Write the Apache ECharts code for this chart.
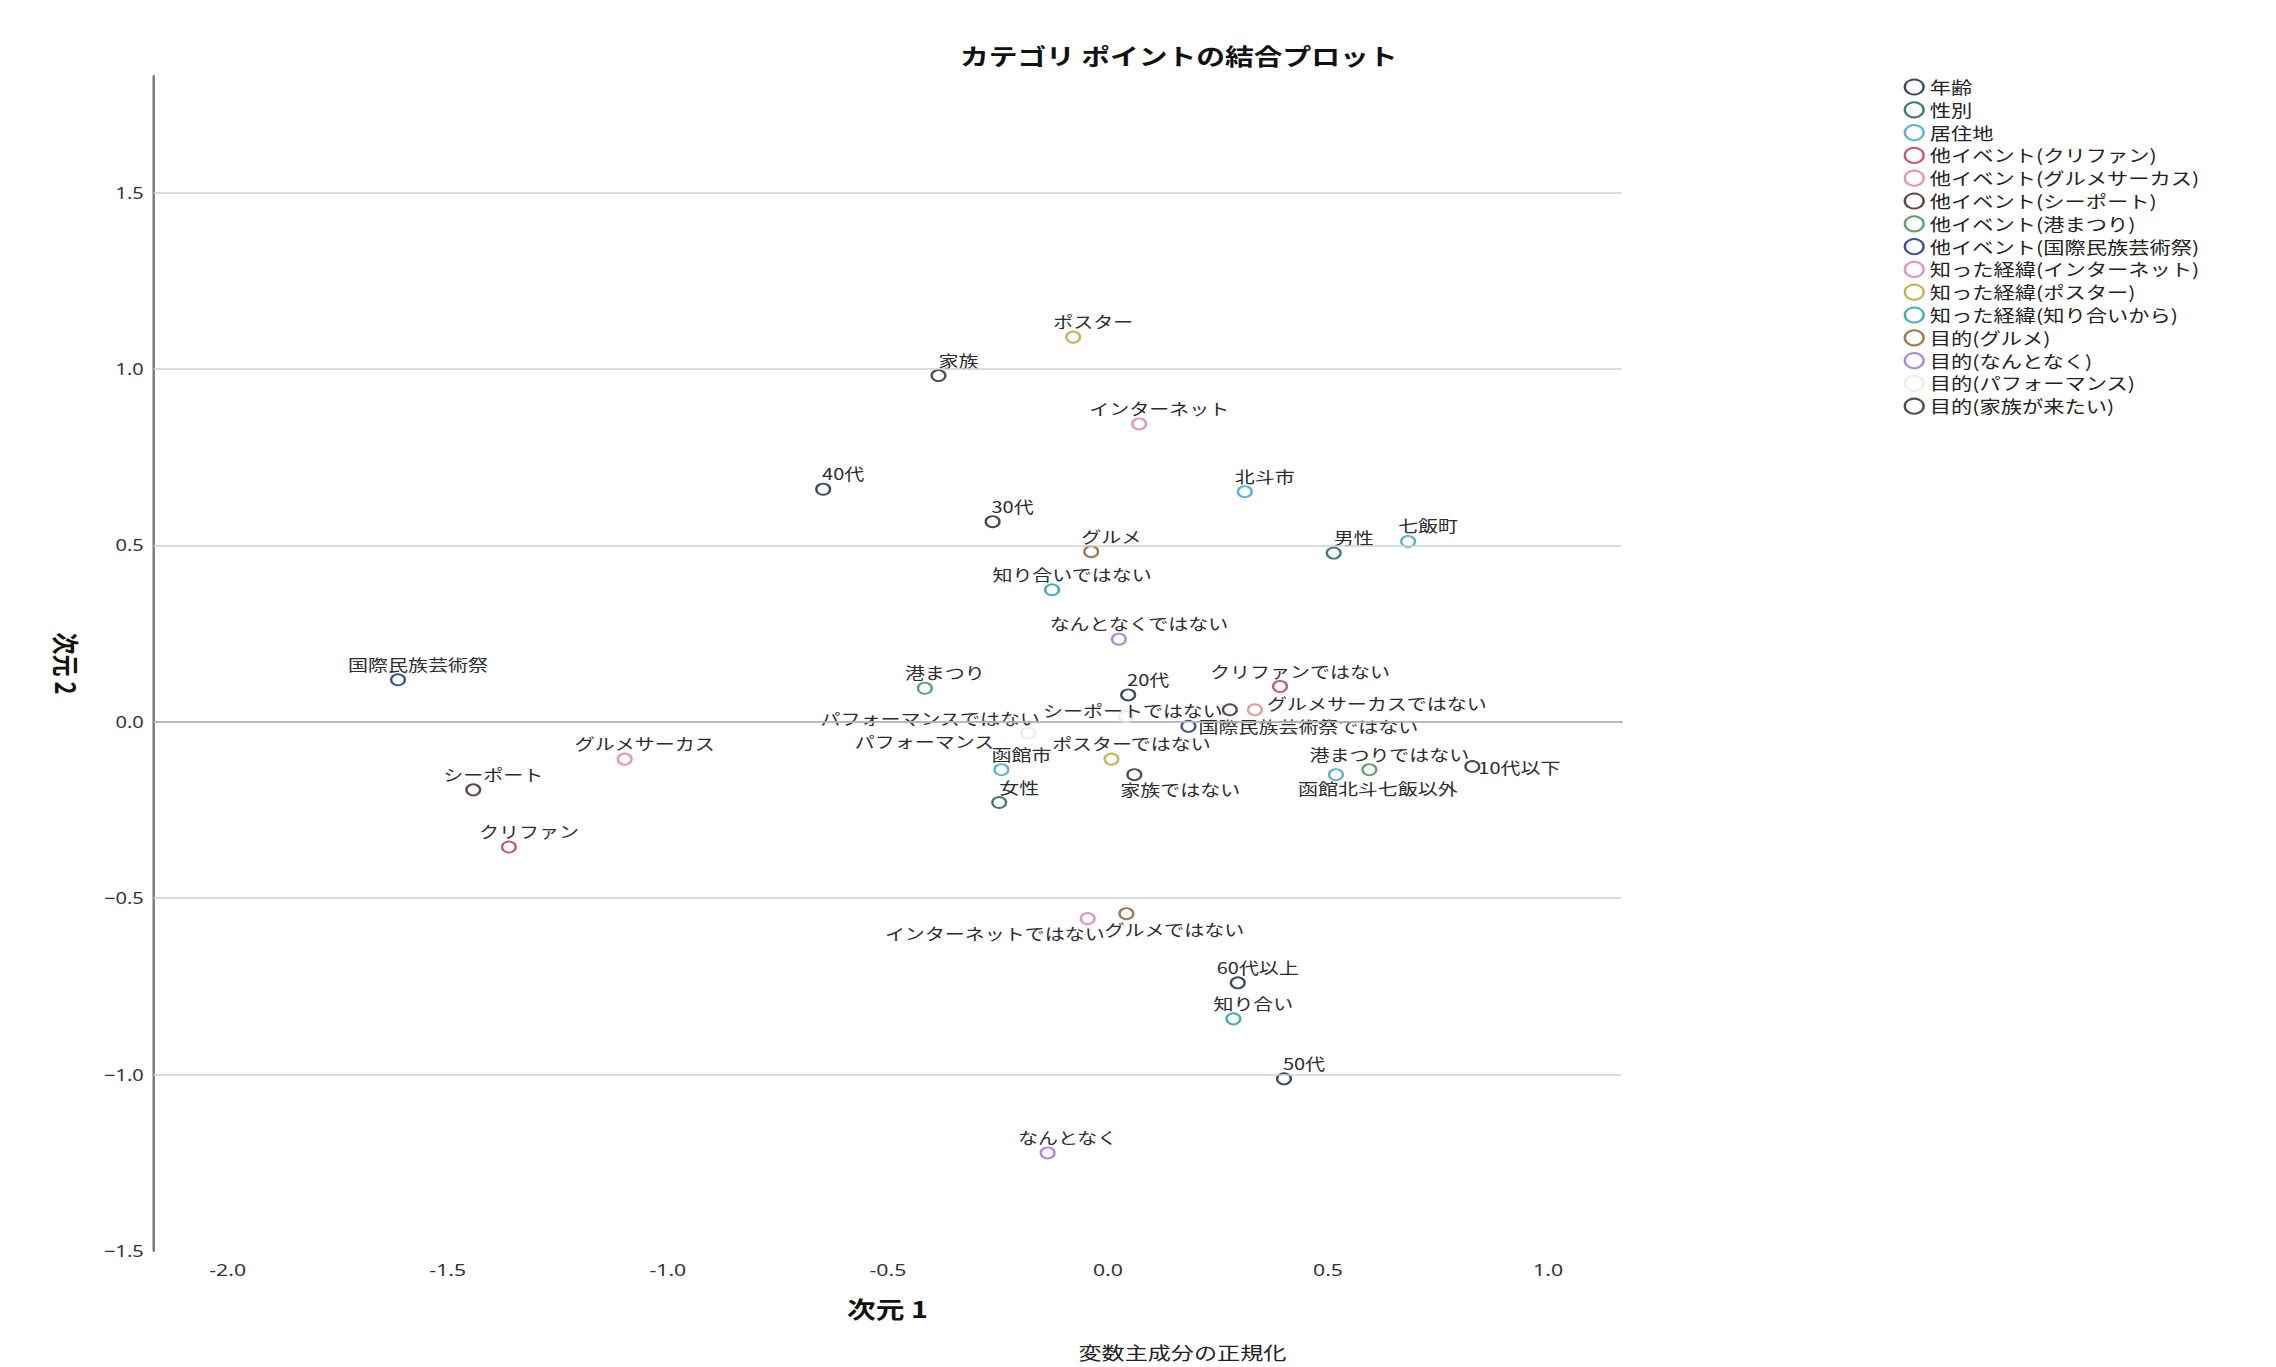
<!DOCTYPE html>
<html lang="ja">
<head>
<meta charset="utf-8">
<title>カテゴリ ポイントの結合プロット</title>
<script src="https://cdn.jsdelivr.net/npm/echarts@6/dist/echarts.min.js"></script>
<style>
  html, body { margin: 0; padding: 0; background: #ffffff; overflow: hidden; }
  /* the plot is laid out on a narrower canvas and widened to the page width */
  #chart { width: 1821px; height: 1367px; transform: scaleX(1.2499); transform-origin: 0 0; }
</style>
</head>
<body>
<div id="chart"></div>
<script>
// ---- variables (one legend entry each) ----
const variables = [
  '年齢', '性別', '居住地',
  '他イベント(クリファン)', '他イベント(グルメサーカス)', '他イベント(シーポート)',
  '他イベント(港まつり)', '他イベント(国際民族芸術祭)',
  '知った経緯(インターネット)', '知った経緯(ポスター)', '知った経緯(知り合いから)',
  '目的(グルメ)', '目的(なんとなく)', '目的(パフォーマンス)', '目的(家族が来たい)'
];

// ---- category points: label, owning variable, dimension 1, dimension 2 ----
const categoryLabels = [
  '10代以下', '20代', '30代', '40代', '50代', '60代以上',
  '男性', '女性',
  '函館市', '北斗市', '七飯町', '函館北斗七飯以外',
  'クリファン', 'クリファンではない',
  'グルメサーカス', 'グルメサーカスではない',
  'シーポート', 'シーポートではない',
  '港まつり', '港まつりではない',
  '国際民族芸術祭', '国際民族芸術祭ではない',
  'インターネット', 'インターネットではない',
  'ポスター', 'ポスターではない',
  '知り合い', '知り合いではない',
  'グルメ', 'グルメではない',
  'なんとなく', 'なんとなくではない',
  'パフォーマンス', 'パフォーマンスではない',
  '家族', '家族ではない'
];
const categoryVariable = [
  0, 0, 0, 0, 0, 0,
  1, 1,
  2, 2, 2, 2,
  3, 3,
  4, 4,
  5, 5,
  6, 6,
  7, 7,
  8, 8,
  9, 9,
  10, 10,
  11, 11,
  12, 12,
  13, 13,
  14, 14
];
const dim1 = [
  0.828, 0.046, -0.262, -0.647, 0.400, 0.295,
  0.513, -0.247,
  -0.242, 0.311, 0.682, 0.518,
  -1.361, 0.391,
  -1.098, 0.334,
  -1.442, 0.277,
  -0.416, 0.594,
  -1.613, 0.183,
  0.071, -0.046,
  -0.079, 0.008,
  0.285, -0.127,
  -0.038, 0.042,
  -0.137, 0.025,
  -0.181, 0.041,
  -0.385, 0.060
];
const dim2 = [
  -0.127, 0.076, 0.567, 0.659, -1.012, -0.740,
  0.478, -0.229,
  -0.136, 0.652, 0.511, -0.150,
  -0.355, 0.100,
  -0.106, 0.034,
  -0.193, 0.034,
  0.095, -0.136,
  0.119, -0.013,
  0.844, -0.558,
  1.090, -0.106,
  -0.842, 0.374,
  0.482, -0.544,
  -1.222, 0.234,
  -0.032, 0.014,
  0.981, -0.150
];

// ---- axis ticks ----
const xTickValues = [-2.0, -1.5, -1.0, -0.5, 0.0, 0.5, 1.0];
const yTickValues = [-1.5, -1.0, -0.5, 0.0, 0.5, 1.0, 1.5];

// ---- styling ----
const variableColors = [
  '#3f4b5b', '#3f7a73', '#5fb2d6',
  '#c05b7d', '#e6979f', '#5f4646',
  '#60a06f', '#3d5392',
  '#e593bc', '#c9b35a', '#3fb0b3',
  '#a27749', '#ad8ad8', '#eeeee4', '#505050'
];
const SX = 1.2499;            // horizontal widening applied to the whole chart
const defaultLabel = { align: 'center', dx: 20, dy: -16 };   // page pixels
const labelPlacement = {
  'シーポートではない':     { align: 'right', dx: -7,  dy: 0 },
  'グルメサーカスではない': { align: 'left',  dx: 12,  dy: -7 },
  '国際民族芸術祭ではない': { align: 'left',  dx: 10,  dy: 0 },
  '10代以下':               { align: 'left',  dx: 6,   dy: 0 },
  '家族ではない':           { align: 'left',  dx: -14, dy: 14 },
  'インターネットではない': { align: 'right', dx: 17,  dy: 14 },
  'グルメではない':         { align: 'left',  dx: -22, dy: 15 },
  '函館北斗七飯以外':       { align: 'left',  dx: -38, dy: 13 },
  'パフォーマンス':         { align: 'right', dx: -34, dy: 8 },
  'パフォーマンスではない': { align: 'right', dx: -86, dy: 1 }
};

const JP = '"Noto Sans CJK JP", "Noto Sans", sans-serif';

function pointsOf(v) {
  const out = [];
  categoryLabels.forEach((name, i) => {
    if (categoryVariable[i] !== v) return;
    const p = labelPlacement[name] || defaultLabel;
    out.push({
      name: name,
      value: [dim1[i], dim2[i]],
      label: {
        show: true,
        formatter: name,
        position: 'inside',
        align: p.align,
        verticalAlign: 'middle',
        offset: [p.dx / SX, p.dy]
      }
    });
  });
  return out;
}

const series = variables.map((v, k) => ({
  name: v,
  type: 'scatter',
  symbol: 'circle',
  symbolSize: 11,
  z: 3,
  itemStyle: { color: '#ffffff', borderColor: variableColors[k], borderWidth: 1.9, opacity: 1 },
  label: { fontFamily: JP, fontSize: 16, color: '#2c2c2c' },
  emphasis: { disabled: true },
  data: pointsOf(k)
}));

// horizontal reference lines at the dimension 2 ticks
series.unshift({
  name: 'gridlines',
  type: 'scatter',
  data: [],
  silent: true,
  z: 1,
  markLine: {
    silent: true,
    symbol: ['none', 'none'],
    label: { show: false },
    lineStyle: { color: '#cfcfcf', width: 1.5, type: 'solid' },
    emphasis: { disabled: true },
    data: yTickValues.filter(v => v > yTickValues[0]).map(v => ({ yAxis: v }))
  }
});

const chart = echarts.init(document.getElementById('chart'), null, { renderer: 'svg' });
chart.setOption({
  animation: false,
  backgroundColor: '#ffffff',
  title: [
    {
      text: 'カテゴリ ポイントの結合プロット',
      left: 938, top: 38, textAlign: 'center',
      textStyle: { fontFamily: JP, fontSize: 23, fontWeight: 'bold', color: '#111111' }
    },
    {
      text: '変数主成分の正規化',
      left: 941, top: 1338, textAlign: 'center',
      textStyle: { fontFamily: JP, fontSize: 18.5, fontWeight: 'normal', color: '#222222' }
    }
  ],
  legend: {
    data: variables,
    orient: 'vertical',
    left: 1518, top: 73,
    itemWidth: 15, itemHeight: 15, itemGap: 4.8,
    icon: 'circle',
    selectedMode: false,
    textStyle: { fontFamily: JP, fontSize: 17, lineHeight: 18, color: '#222222' }
  },
  grid: { left: 123, right: 524, top: 76, bottom: 116, containLabel: false },
  xAxis: {
    type: 'value',
    min: -2.168, max: 1.166,
    name: '次元 1', nameLocation: 'middle', nameGap: 45,
    nameTextStyle: { fontFamily: JP, fontSize: 23, fontWeight: 'bold', color: '#111111' },
    axisLine: { show: true, lineStyle: { color: '#7d7d7d', width: 2 } },
    axisTick: { show: false },
    splitLine: { show: false },
    axisLabel: {
      customValues: xTickValues,
      formatter: v => v.toFixed(1),
      margin: 10,
      fontFamily: '"Noto Sans", sans-serif', fontSize: 17, color: '#333333'
    }
  },
  yAxis: {
    type: 'value',
    min: -1.5, max: 1.83,
    name: '次元 2', nameLocation: 'middle', nameGap: 58, nameRotate: -90,
    nameTextStyle: { fontFamily: JP, fontSize: 22, fontWeight: 'bold', color: '#111111' },
    axisLine: { show: true, onZero: false, lineStyle: { color: '#7d7d7d', width: 2 } },
    axisTick: { show: false },
    splitLine: { show: false },
    axisLabel: {
      customValues: yTickValues,
      formatter: v => v.toFixed(1).replace('-', '\u2212'),
      margin: 8,
      fontFamily: '"Noto Sans", sans-serif', fontSize: 16, color: '#333333'
    }
  },
  series: series
});
</script>
</body>
</html>
